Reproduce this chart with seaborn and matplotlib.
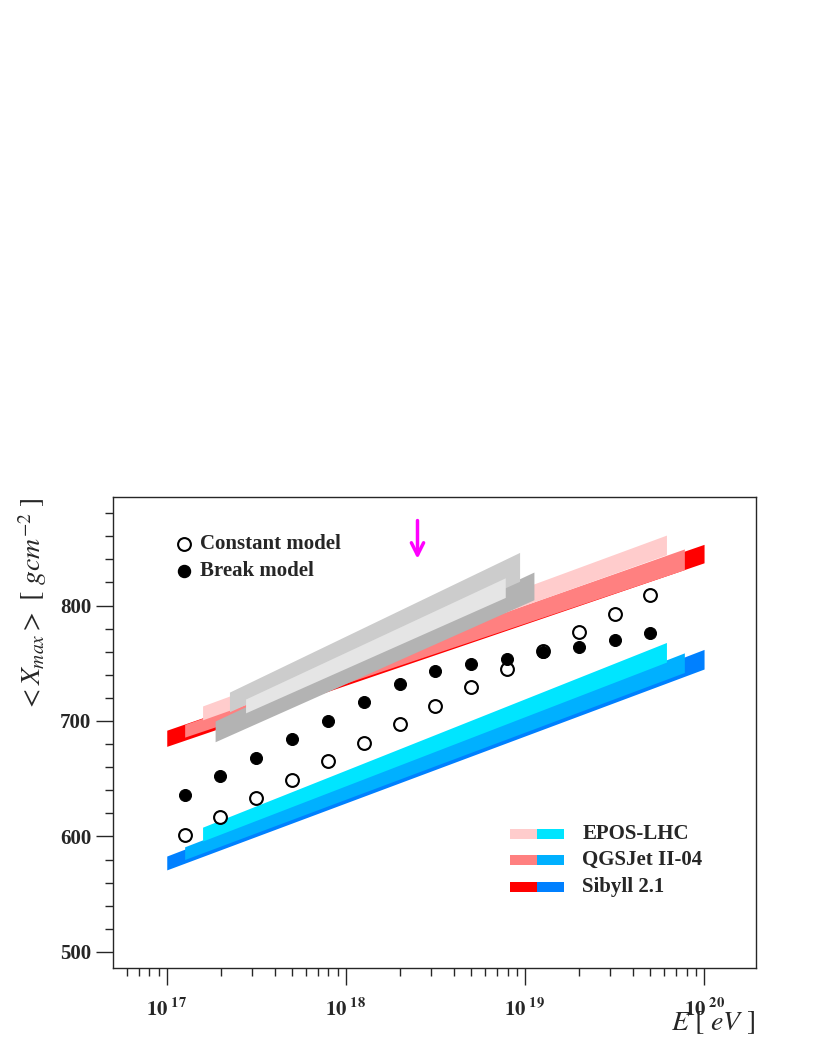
import numpy as np
import matplotlib
matplotlib.use("Agg")
import matplotlib.pyplot as plt
import seaborn as sns
import pandas as pd
from matplotlib.patches import Rectangle
from matplotlib.ticker import FixedLocator, NullFormatter

logE = [17.1, 17.3, 17.5, 17.7, 17.9, 18.1, 18.3, 18.5, 18.7, 18.9, 19.1, 19.3, 19.5, 19.7]
constant_xmax = [601, 617, 633, 649, 665, 681, 697, 713, 729, 745, 761, 777, 793, 809]
break_xmax = [636, 652, 668, 684, 700, 716, 732, 743, 749, 754, 760, 764, 770, 776]

# bands: name, logE start, logE end, (lo, hi) at start, (lo, hi) at end, color
band_names = ["Sibyll Fe", "Sibyll p", "QGSJet Fe", "QGSJet p", "EPOS Fe", "EPOS p",
              "dark gray", "mid gray", "light gray"]
band_x0 = [17.0, 17.0, 17.1, 17.1, 17.2, 17.2, 17.27, 17.35, 17.44]
band_x1 = [20.0, 20.0, 19.89, 19.89, 19.79, 19.79, 19.05, 18.97, 18.89]
band_lo0 = [678, 571, 686, 580, 701, 596, 682, 708, 707]
band_hi0 = [692, 583, 697, 591, 713, 608, 700, 725, 719]
band_lo1 = [837, 745, 831, 742, 844, 751, 805, 821, 807]
band_hi1 = [853, 762, 849, 759, 861, 768, 829, 846, 824]
band_colors = ["#ff0000", "#0080ff", "#ff8080", "#00b0ff", "#ffcccc", "#00e5ff",
               "#b3b3b3", "#cccccc", "#e5e5e5"]

sns.set_style("ticks")
plt.rcParams['font.family'] = ['Liberation Serif', 'DejaVu Serif']
plt.rcParams['mathtext.fontset'] = 'stix'

fig = plt.figure(figsize=(8.22, 10.64), dpi=100)
ax = fig.add_axes([0.1375, 0.0902, 0.7822, 0.4427])

for i in range(len(band_names)):
    xs = np.array([band_x0[i], band_x1[i]])
    ax.fill_between(10 ** xs, [band_lo0[i], band_lo1[i]], [band_hi0[i], band_hi1[i]],
                    color=band_colors[i], lw=0, zorder=1 + i * 0.01)

df = pd.DataFrame({"E": 10 ** np.array(logE), "c": constant_xmax, "b": break_xmax})
sns.scatterplot(data=df, x="E", y="c", ax=ax, s=85, facecolor="white", edgecolor="black",
                linewidth=1.5, zorder=5)
sns.scatterplot(data=df, x="E", y="b", ax=ax, s=75, color="black", edgecolor="black", zorder=5)

ax.set_xscale("log")
ax.set_xlim(10 ** 16.70, 10 ** 20.29)
ax.set_ylim(486, 894)
ax.set_xlabel("")
ax.set_ylabel("")

ax.set_xticks([1e17, 1e18, 1e19, 1e20])
ax.set_xticklabels([r"$\mathbf{10^{\ 17}}$", r"$\mathbf{10^{\ 18}}$", r"$\mathbf{10^{\ 19}}$", r"$\mathbf{10^{\ 20}}$"], fontsize=15)
minors = [float(m) * 10.0 ** d for d in range(16, 21) for m in range(2, 10)]
ax.xaxis.set_minor_locator(FixedLocator(minors))
ax.xaxis.set_minor_formatter(NullFormatter())
ax.set_yticks([500, 600, 700, 800])
ax.set_yticklabels(["500", "600", "700", "800"], fontsize=15, fontweight="bold")
ax.yaxis.set_minor_locator(FixedLocator(np.arange(480.0, 900.0, 20.0)))
ax.tick_params(axis="both", which="major", direction="out", length=12, width=1)
ax.tick_params(axis="both", which="minor", direction="out", length=6, width=1)
ax.tick_params(axis="x", pad=10)
for s in ax.spines.values():
    s.set_linewidth(1)

ax.annotate("", xy=(10 ** 18.4, 838), xytext=(10 ** 18.4, 876),
            arrowprops=dict(arrowstyle="->", color="magenta", lw=2.5, mutation_scale=22), zorder=6)

# legend upper left
ax.scatter([0.11], [0.9], transform=ax.transAxes, s=85, facecolor="white", edgecolor="black", lw=1.5, zorder=7)
ax.scatter([0.11], [0.843], transform=ax.transAxes, s=75, color="black", zorder=7)
ax.text(0.135, 0.9, "Constant model", transform=ax.transAxes, fontsize=15, fontweight="bold", va="center")
ax.text(0.135, 0.843, "Break model", transform=ax.transAxes, fontsize=15, fontweight="bold", va="center")

# legend lower right
leg_labels = ["EPOS-LHC", "QGSJet II-04", "Sibyll 2.1"]
leg_left = [band_colors[4], band_colors[2], band_colors[0]]
leg_right = [band_colors[5], band_colors[3], band_colors[1]]
for k, yy in enumerate([0.284, 0.229, 0.172]):
    ax.add_patch(Rectangle((0.618, yy - 0.011), 0.042, 0.022, transform=ax.transAxes, color=leg_left[k], lw=0, zorder=7))
    ax.add_patch(Rectangle((0.660, yy - 0.011), 0.042, 0.022, transform=ax.transAxes, color=leg_right[k], lw=0, zorder=7))
    ax.text(0.73, yy, leg_labels[k], transform=ax.transAxes, fontsize=15, fontweight="bold", va="center")

fig.text(0.919, 0.032, r"$E\ [\ eV\ ]$", fontsize=20, ha="right")
fig.text(0.04, 0.533, r"$<X_{max}>\ [\ gcm^{-2}\ ]$", fontsize=20, rotation=90, ha="center", va="top")

fig.savefig("out.png", dpi=100)
